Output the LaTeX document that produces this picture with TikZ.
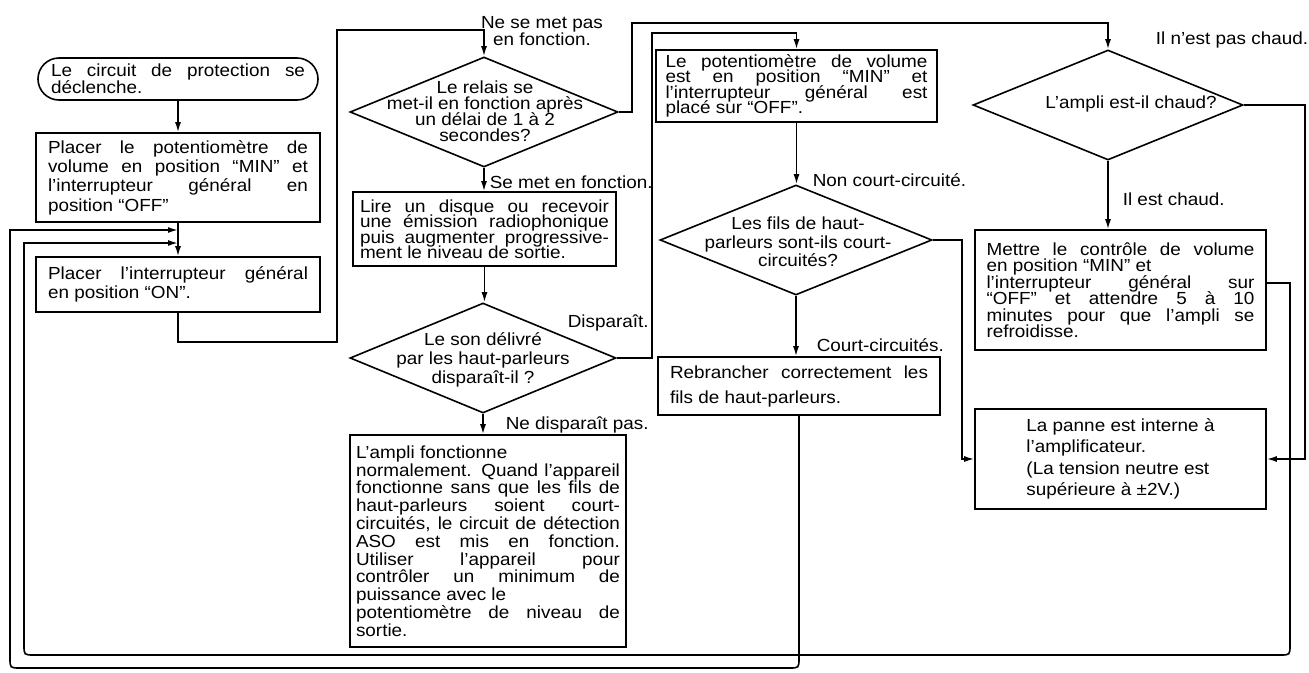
\documentclass[tikz,border=0pt]{standalone}
\usepackage{fontspec}
\setmainfont{Liberation Sans}[FakeStretch=1.08]
\usetikzlibrary{shapes.geometric,arrows.meta}
\newcommand\mybx[3]{\vbox{\hsize=#1pt\baselineskip=#2pt\lineskiplimit=-100pt\lineskip=0pt #3}}
\newcommand\jline[1]{\hbox to\hsize{#1}}
\newcommand\lline[1]{\hbox{#1}}
\newcommand\ctline[1]{\hbox to\hsize{\hss#1\hss}}
\begin{document}
\begin{tikzpicture}[x=1pt,y=-1pt,line width=1.6pt,
  every node/.style={font=\fontsize{17.5}{17}\selectfont, inner sep=0pt},
  box/.style={draw, line width=1.6pt, inner sep=0pt},
  dia/.style={draw, diamond, line width=1.6pt, inner sep=0pt},
  arr/.style={-{Latex[length=10pt,width=6pt]}},
  lbl/.style={anchor=west}]
\useasboundingbox (0,0) rectangle (1309,672);

% left column
\node[box, rounded corners=21pt, minimum width=280pt, minimum height=42pt] (start) at (178,79)
  {\mybx{254}{17}{\jline{Le circuit de protection se}\lline{déclenche.}}};
\node[box, minimum width=284pt, minimum height=89pt] (b1) at (178,177.5)
  {\mybx{260}{19.4}{\jline{Placer le potentiomètre de}\jline{volume en position “MIN” et}\jline{l’interrupteur général en}\lline{position “OFF”}}};
\node[box, minimum width=284pt, minimum height=55pt] (b2) at (178,284.5)
  {\mybx{260}{18.5}{\jline{Placer l’interrupteur général}\lline{en position “ON”.}}};

% second column
\node[dia, minimum width=268pt, minimum height=110pt] (d1) at (484,112) {};
\node (t1) at (485,111) {\mybx{240}{16}{\ctline{Le relais se}\ctline{met-il en fonction après}\ctline{un délai de 1 à 2}\ctline{secondes?}}};
\node[box, minimum width=263pt, minimum height=74pt] (b3) at (484.5,229)
  {\mybx{249}{15.5}{\jline{Lire un disque ou recevoir}\jline{une émission radiophonique}\jline{puis augmenter progressive-}\lline{ment le niveau de sortie.}}};
\node[dia, minimum width=266pt, minimum height=110pt] (d2) at (483,358) {};
\node (t2) at (483,360) {\mybx{240}{19}{\ctline{Le son délivré}\ctline{par les haut-parleurs}\ctline{disparaît-il ?}}};
\node[box, minimum width=276pt, minimum height=212pt] (b6) at (488,541)
  {\mybx{264}{17.8}{\lline{L’ampli fonctionne}\jline{normalement. Quand l’appareil}\jline{fonctionne sans que les fils de}\jline{haut-parleurs soient court-}\jline{circuités, le circuit de détection}\jline{ASO est mis en fonction.}\jline{Utiliser l’appareil pour}\jline{contrôler un minimum de}\lline{puissance avec le}\jline{potentiomètre de niveau de}\lline{sortie.}}};

% third column
\node[box, minimum width=281pt, minimum height=72pt] (b4) at (796.5,86)
  {\mybx{262}{15.5}{\jline{Le potentiomètre de volume}\jline{est en position “MIN” et}\jline{l’interrupteur général est}\lline{placé sur “OFF”.}}};
\node[dia, minimum width=272pt, minimum height=110pt] (d3) at (796,240) {};
\node (t3) at (798,242) {\mybx{220}{18.5}{\ctline{Les fils de haut-}\ctline{parleurs sont-ils court-}\ctline{circuités?}}};
\node[box, minimum width=282pt, minimum height=58pt] (b5) at (799,386)
  {\mybx{258}{25}{\jline{Rebrancher correctement les}\lline{fils de haut-parleurs.}}};

% fourth column
\node[dia, minimum width=270pt, minimum height=110pt] (d4) at (1108,105) {};
\node (t4) at (1131,104) {L’ampli est-il chaud?};
\node[box, minimum width=291pt, minimum height=120pt] (b7) at (1120.5,290)
  {\mybx{268}{16.5}{\jline{Mettre le contrôle de volume}\lline{en position “MIN” et}\jline{l’interrupteur général sur}\jline{“OFF” et attendre 5 à 10}\jline{minutes pour que l’ampli se}\lline{refroidisse.}}};
\node[box, minimum width=291pt, minimum height=100pt] (b8) at (1120.5,459)
  {\mybx{268}{21.5}{\lline{La panne est interne à}\lline{l’amplificateur.}\lline{(La tension neutre est}\lline{supérieure à ±2V.)}}};

% labels
\node[align=center] (l1) at (542,31) {Ne se met pas\\en fonction.};
\node[lbl] (l2) at (489,182) {Se met en fonction.};
\node[lbl] (l3) at (567,323) {Disparaît.};
\node[lbl] (l4) at (505,425) {Ne disparaît pas.};
\node[lbl] (l5) at (812,180) {Non court-circuité.};
\node[lbl] (l6) at (816,345) {Court-circuités.};
\node[lbl] (l7) at (1155,40) {Il n’est pas chaud.};
\node[lbl] (l8) at (1122,199) {Il est chaud.};

% helper coordinates
\coordinate (m1) at (178,230);
\coordinate (m2) at (178,243);
\coordinate (p1) at (337,342);
\coordinate (p2) at (337,30);
\coordinate (p3) at (632,23);
\coordinate (p4) at (652,33);
\coordinate (p5) at (962,0);
\coordinate (p6) at (1305,0);
\coordinate (p7) at (10,668);
\coordinate (p8) at (1290,655);
\coordinate (p9) at (24,655);
\coordinate (p10) at (799,668);

% connectors
\draw[arr] (start) -- (b1);
\draw[arr] (b1) -- (b2);
\draw[arr] (b2.south) |- (p1) -- (p2) -| (d1.north);
\draw[arr] (d1.east) -| (p3) -| (d4.north);
\draw[arr] (d1.south) -- (d1.south |- b3.north);
\draw[arr] (b3.south) -- (b3.south |- d2.north);
\draw[arr] (d2.east) -| (p4) -| (b4.north);
\draw[arr] (d2.south) -- (d2.south |- b6.north);
\draw[arr] (b4.south) -- (b4.south |- d3.north);
\draw[arr] (d3.south) -- (d3.south |- b5.north);
\draw[arr] (d3.east) -| (p5 |- b8.west) -- (b8.west);
\draw[arr] (d4.east) -| (p6 |- b8.east) -- (b8.east);
\draw[arr] (d4.south) -- (d4.south |- b7.north);
\draw[arr] (b5.south) -- ([yshift=10pt]p10) .. controls (p10) .. ([xshift=-10pt]p10)
  -- ([xshift=10pt]p7) .. controls (p7) .. ([yshift=10pt]p7) -- (p7 |- m1) -- (m1);
\draw[arr] ([yshift=7pt]b7.east) -- ([yshift=7pt]b7.east -| p8) -- ([yshift=10pt]p8)
  .. controls (p8) .. ([xshift=-10pt]p8) -- ([xshift=10pt]p9) .. controls (p9) .. ([yshift=10pt]p9)
  -- (p9 |- m2) -- (m2);
\end{tikzpicture}
\end{document}
